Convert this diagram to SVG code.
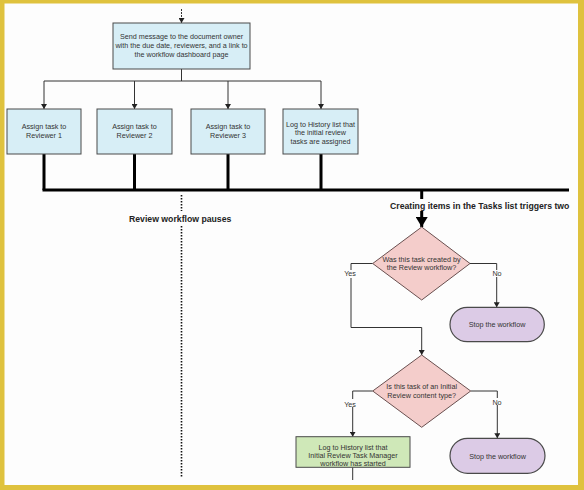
<svg xmlns="http://www.w3.org/2000/svg" width="584" height="490" viewBox="0 0 584 490">
<style>
.t{font-family:"Liberation Sans",Arial,sans-serif;font-size:7.2px;fill:#333;text-anchor:middle}
.b{font-family:"Liberation Sans",Arial,sans-serif;font-size:8.7px;font-weight:bold;fill:#222}
.box{fill:#d7eef6;stroke:#4a4a4a;stroke-width:1}
.dia{fill:#f4cdcb;stroke:#6a5050;stroke-width:1}
.stop{fill:#dccbe6;stroke:#4a4a4a;stroke-width:1.2}
.grn{fill:#cfe8b8;stroke:#4a4a4a;stroke-width:1}
.c{fill:none;stroke:#333;stroke-width:1}
.k{fill:none;stroke:#000;stroke-width:3}
</style>
<defs>
<marker id="a" markerWidth="6" markerHeight="6" refX="5" refY="3" orient="auto" markerUnits="userSpaceOnUse"><path d="M0,0 L5,3 L0,6 Z" fill="#222"/></marker>
<marker id="ak" markerWidth="12" markerHeight="12" refX="10" refY="6" orient="auto" markerUnits="userSpaceOnUse"><path d="M0,0 L10,6 L0,12 Z" fill="#000"/></marker>
<clipPath id="cp"><rect x="0" y="0" width="570" height="490"/></clipPath>
</defs>
<rect width="584" height="490" fill="#fdfdfd"/>
<g id="connectors">
<path class="c" d="M181.5,9 V23" stroke-dasharray="2,1" marker-end="url(#a)"/>
<path class="c" d="M181.5,69 V81" stroke-width="1.8"/>
<path class="c" d="M44,81 H321"/>
<path class="c" d="M44,81 V109" marker-end="url(#a)"/>
<path class="c" d="M134.5,81 V109" marker-end="url(#a)"/>
<path class="c" d="M228,81 V109" marker-end="url(#a)"/>
<path class="c" d="M321,81 V109" marker-end="url(#a)"/>
<path class="k" d="M44,154 V190 M134.5,154 V190 M228,154 V190 M321,154 V190"/>
<path class="k" d="M42.5,190 H569"/>
<path d="M181.5,195 V211" stroke="#111" stroke-width="1.6" stroke-dasharray="1.5,1.5" fill="none"/>
<path d="M181.5,226 V478" stroke="#111" stroke-width="1.6" stroke-dasharray="1.5,1.5" fill="none"/>
<path class="k" d="M421.7,190 V199"/>
<path class="k" d="M421.7,211 V227" marker-end="url(#ak)"/>
<path class="c" d="M372.7,263.5 H351 V270"/>
<path class="c" d="M351,278 V327.5 H421.7 V355" marker-end="url(#a)"/>
<path class="c" d="M470,263.5 H496.7 V270"/>
<path class="c" d="M496.7,277 V307.3" marker-end="url(#a)"/>
<path class="c" d="M372.7,391 H352.7 V399"/>
<path class="c" d="M352.7,407 V436.7" marker-end="url(#a)"/>
<path class="c" d="M470.7,391 H497.3 V398"/>
<path class="c" d="M497.3,405 V438.3" marker-end="url(#a)"/>
<path class="c" d="M352.7,467.3 V480"/>
</g>
<g id="n-send">
<rect class="box" x="113" y="23" width="137" height="46"/>
<text class="t" x="181.5" y="38.5">Send message to the document owner</text>
<text class="t" x="181.5" y="47.5">with the due date, reviewers, and a link to</text>
<text class="t" x="181.5" y="56.5">the workflow dashboard page</text>
</g>
<g id="n-r1">
<rect class="box" x="7" y="109" width="74" height="45"/>
<text class="t" x="44" y="129">Assign task to</text>
<text class="t" x="44" y="137.5">Reviewer 1</text>
</g>
<g id="n-r2">
<rect class="box" x="97" y="109" width="75" height="45"/>
<text class="t" x="134.5" y="129">Assign task to</text>
<text class="t" x="134.5" y="137.5">Reviewer 2</text>
</g>
<g id="n-r3">
<rect class="box" x="191" y="109" width="74" height="45"/>
<text class="t" x="228" y="129">Assign task to</text>
<text class="t" x="228" y="137.5">Reviewer 3</text>
</g>
<g id="n-log1">
<rect class="box" x="283" y="109" width="75" height="45"/>
<text class="t" x="320.5" y="126.5">Log to History list that</text>
<text class="t" x="320.5" y="135">the initial review</text>
<text class="t" x="320.5" y="143.5">tasks are assigned</text>
</g>
<g id="l-pause">
<text class="b" x="129" y="222">Review workflow pauses</text>
</g>
<g id="l-creating" clip-path="url(#cp)">
<text class="b" x="390" y="209">Creating items in the Tasks list triggers two</text>
</g>
<g id="n-d1">
<polygon class="dia" points="421.7,227 470,263.5 421.7,300 372.7,263.5"/>
<text class="t" x="421.5" y="261.5">Was this task created by</text>
<text class="t" x="421.5" y="270">the Review workflow?</text>
<text class="t" x="350" y="276">Yes</text>
<text class="t" x="497" y="275.5">No</text>
</g>
<g id="n-stop1">
<rect class="stop" x="450" y="307.3" width="94.3" height="34.4" rx="17.2"/>
<text class="t" x="497" y="327">Stop the workflow</text>
</g>
<g id="n-d2">
<polygon class="dia" points="421.7,355 470.7,391 421.7,427.3 372.7,391"/>
<text class="t" x="421.7" y="389">Is this task of an Initial</text>
<text class="t" x="421.7" y="397.5">Review content type?</text>
<text class="t" x="350" y="406.5">Yes</text>
<text class="t" x="497" y="404.5">No</text>
</g>
<g id="n-log2">
<rect class="grn" x="296" y="436.7" width="114" height="30.6"/>
<text class="t" x="353" y="449.5">Log to History list that</text>
<text class="t" x="353" y="458">Initial Review Task Manager</text>
<text class="t" x="353" y="466">workflow has started</text>
</g>
<g id="n-stop2">
<rect class="stop" x="450" y="438.3" width="95" height="35" rx="17.5"/>
<text class="t" x="497.5" y="458.5">Stop the workflow</text>
</g>
<g id="frame">
<rect x="0" y="0" width="584" height="3.5" fill="#dfc23e"/>
<rect x="0" y="0" width="4.5" height="490" fill="#dfc23e"/>
<rect x="578" y="0" width="6" height="490" fill="#dfc23e"/>
<rect x="0" y="485" width="584" height="5" fill="#dfc23e"/>
</g>
</svg>
